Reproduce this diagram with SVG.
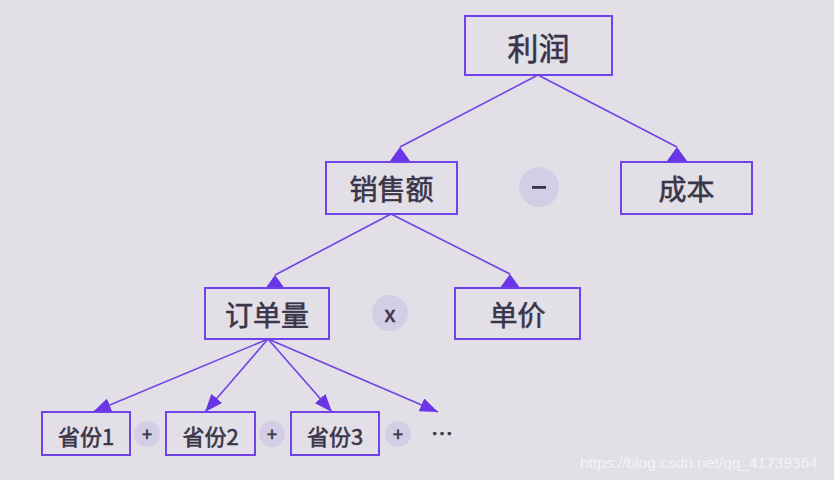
<svg xmlns="http://www.w3.org/2000/svg" width="834" height="480" viewBox="0 0 834 480">
<defs>
<style>
.box{fill:#e2dfe7;stroke:#7142e8;stroke-width:2}
.t{font-family:"Noto Sans CJK SC","Noto Sans",sans-serif;fill:#3a3549;stroke:#3a3549;stroke-width:0.6;text-anchor:middle;dominant-baseline:central;font-weight:400}
.op{fill:#d3cee5}
.ln{stroke:#7142e8;stroke-width:1.6;fill:none}
</style>
<marker id="up" markerUnits="userSpaceOnUse" viewBox="0 0 20 14" markerWidth="20" markerHeight="14" refX="10" refY="0" orient="0" overflow="visible">
<path d="M10,0 L20,14 L0,14 Z" fill="#6a35e6"/>
</marker>
<marker id="arr" markerUnits="userSpaceOnUse" viewBox="0 0 18 14" markerWidth="18" markerHeight="14" refX="18" refY="7" orient="auto">
<path d="M0,0 L18,7 L0,14 Z" fill="#6a35e6"/>
</marker>
</defs>
<rect width="834" height="480" fill="#e2dfe7"/>
<g id="connectors">
<line class="ln" x1="538" y1="75" x2="400" y2="147" marker-end="url(#up)"/>
<line class="ln" x1="538" y1="75" x2="677" y2="147" marker-end="url(#up)"/>
<line class="ln" x1="391" y1="214" x2="275" y2="275" marker-end="url(#up)"/>
<line class="ln" x1="391" y1="214" x2="510" y2="274" marker-end="url(#up)"/>
<line class="ln" x1="268" y1="339" x2="93" y2="412" marker-end="url(#arr)"/>
<line class="ln" x1="268" y1="339" x2="205" y2="412" marker-end="url(#arr)"/>
<line class="ln" x1="268" y1="339" x2="332" y2="412" marker-end="url(#arr)"/>
<line class="ln" x1="268" y1="339" x2="438" y2="412" marker-end="url(#arr)"/>
</g>
<g id="profit"><rect class="box" x="465" y="16" width="147" height="59"/><text class="t" x="538.5" y="46" font-size="31" stroke-width="0.9">利润</text></g>
<g id="sales"><rect class="box" x="326" y="162" width="131" height="52"/><text class="t" x="391.5" y="188" font-size="28">销售额</text></g>
<g id="minus"><circle class="op" cx="539" cy="187" r="20"/><rect x="532" y="186" width="14" height="2.8" fill="#3a3549"/></g>
<g id="cost"><rect class="box" x="621" y="162" width="131" height="52"/><text class="t" x="686.5" y="188" font-size="28">成本</text></g>
<g id="orders"><rect class="box" x="205" y="288" width="124" height="51"/><text class="t" x="267" y="313.5" font-size="28">订单量</text></g>
<g id="times"><circle class="op" cx="390" cy="313" r="18"/><text class="t" x="390" y="312" font-size="22" font-family="'Noto Sans',sans-serif" stroke-width="0.8">x</text></g>
<g id="price"><rect class="box" x="455" y="288" width="125" height="51"/><text class="t" x="517.5" y="313.5" font-size="28">单价</text></g>
<g id="prov1"><rect class="box" x="42" y="412" width="88" height="43"/><text class="t" x="86" y="435" font-size="22" stroke-width="0.5">省份1</text></g>
<g id="plus1"><circle class="op" cx="147" cy="434" r="13"/><text class="t" x="147" y="433" font-size="18" stroke-width="0.4">+</text></g>
<g id="prov2"><rect class="box" x="166" y="412" width="89" height="43"/><text class="t" x="210.5" y="435" font-size="22" stroke-width="0.5">省份2</text></g>
<g id="plus2"><circle class="op" cx="272" cy="434" r="13"/><text class="t" x="272" y="433" font-size="18" stroke-width="0.4">+</text></g>
<g id="prov3"><rect class="box" x="291" y="412" width="88" height="43"/><text class="t" x="335" y="435" font-size="22" stroke-width="0.5">省份3</text></g>
<g id="plus3"><circle class="op" cx="398" cy="434" r="13"/><text class="t" x="398" y="433" font-size="18" stroke-width="0.4">+</text></g>
<g id="more"><text class="t" x="442" y="431" font-size="22" font-family="'Liberation Sans',sans-serif" stroke-width="0.5">…</text></g>
<text x="580" y="468" font-family="'Liberation Sans',Arial,sans-serif" font-size="15.5" fill="#f4f2f7">https://blog.csdn.net/qq_41739364</text>
</svg>
